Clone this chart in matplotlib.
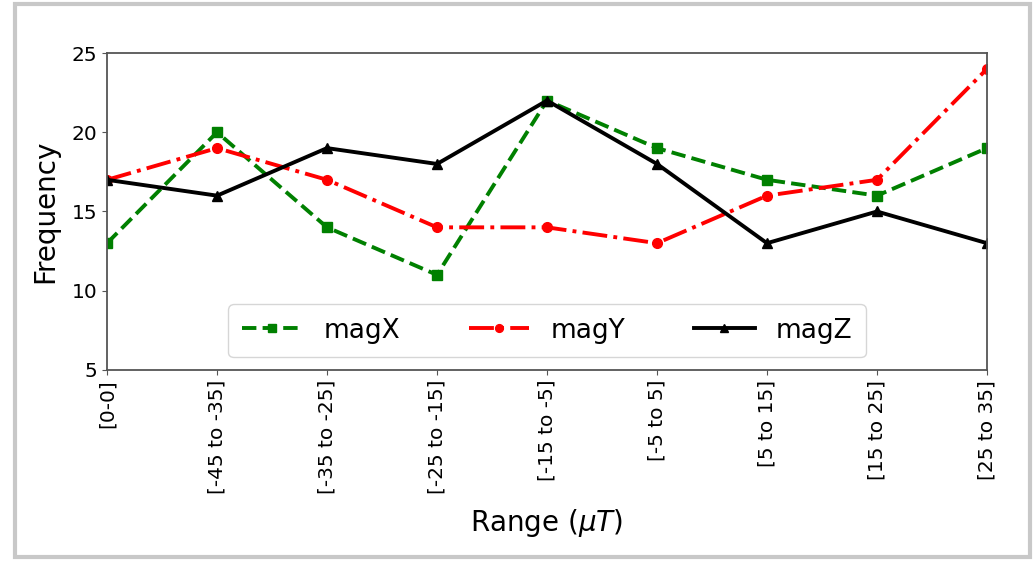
import matplotlib
matplotlib.use('Agg')
import matplotlib.pyplot as plt
from matplotlib.patches import Rectangle

ranges = ['[0-0]', '[-45 to -35]', '[-35 to -25]', '[-25 to -15]', '[-15 to -5]',
          '[-5 to 5]', '[5 to 15]', '[15 to 25]', '[25 to 35]']
magX = [13, 20, 14, 11, 22, 19, 17, 16, 19]
magY = [17, 19, 17, 14, 14, 13, 16, 17, 24]
magZ = [17, 16, 19, 18, 22, 18, 13, 15, 13]

fig = plt.figure(figsize=(10.36, 5.61), dpi=100)
# picture frame round the chart
fig.patches.append(Rectangle((0.014, 0.008), 0.98, 0.984, transform=fig.transFigure,
                             fill=False, edgecolor='#c8c8c8', linewidth=3))
ax = fig.add_axes([0.1033, 0.3405, 0.8494, 0.565])

x = list(range(len(ranges)))
ax.plot(x, magX, color='green', linestyle='--', marker='s', linewidth=2.8, markersize=7, label='magX')
ax.plot(x, magY, color='red', linestyle='-.', marker='o', linewidth=2.8, markersize=7, label='magY')
ax.plot(x, magZ, color='black', linestyle='-', marker='^', linewidth=2.8, markersize=7, label='magZ')

ax.set_xlim(0, len(ranges) - 1)
ax.set_ylim(5, 25)
ax.set_yticks([5, 10, 15, 20, 25])
ax.set_xticks(x)
ax.set_xticklabels(ranges, rotation=90)
ax.tick_params(labelsize=14.5, color='#555555')
for s in ax.spines.values():
    s.set_color('#555555')
    s.set_linewidth(1.3)

ax.set_xlabel('Range ($\\mu T$)', fontsize=20, labelpad=9)
ax.set_ylabel('Frequency', fontsize=20, labelpad=9)

ax.legend(loc='lower center', bbox_to_anchor=(0.5, 0.0), ncol=3, fontsize=19,
          columnspacing=2.6, handlelength=2.3, markerscale=0.8, borderpad=0.5)

fig.savefig('out.png', dpi=100)
